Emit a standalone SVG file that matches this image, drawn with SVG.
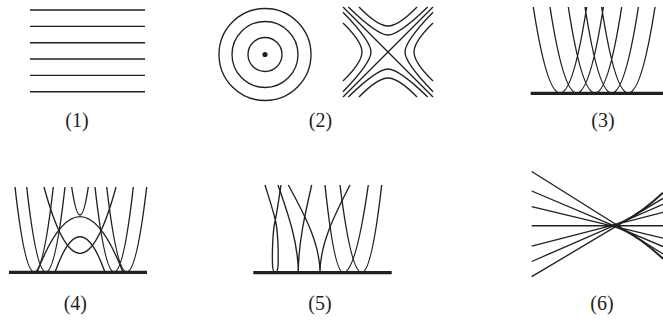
<svg xmlns="http://www.w3.org/2000/svg" width="663" height="320" viewBox="0 0 663 320">
<style>
.c{fill:none;stroke:#231f20;stroke-width:1.35}
.b{fill:none;stroke:#231f20;stroke-width:3.2}
.t{font-family:"Liberation Serif","Times New Roman",serif;font-size:20px;fill:#231f20;text-anchor:middle}
</style>
<rect width="663" height="320" fill="#fff"/>
<g id="p1">
<path class="c" d="M30,10H145M30,26.3H145M30,42.7H145M30,59H145M30,75.4H145M30,91.7H145"/>
<text class="t" x="77" y="127">(1)</text>
</g>
<g id="p2">
<circle class="c" cx="265" cy="54.5" r="46"/>
<circle class="c" cx="265" cy="54.5" r="33"/>
<circle class="c" cx="265" cy="54.5" r="17"/>
<circle cx="265" cy="54.5" r="2.6" fill="#231f20"/>
<path class="c" d="M343,7L433,97M343,97L433,7"/>
<path class="c" d="M359,7C371.9,20.3 380.6,26 388,26C395.4,26 404.1,20.3 417,7"/>
<path class="c" d="M359,97C371.9,83.7 380.6,78 388,78C395.4,78 404.1,83.7 417,97"/>
<path class="c" d="M348.3,7C368.5,26.6 380.4,35 388,35C395.6,35 407.5,26.6 427.7,7"/>
<path class="c" d="M348.3,97C368.5,77.4 380.4,69 388,69C395.6,69 407.5,77.4 427.7,97"/>
<path class="c" d="M343,23C356.3,35.9 362,44.6 362,52C362,59.4 356.3,68.1 343,81"/>
<path class="c" d="M433,23C419.7,35.9 414,44.6 414,52C414,59.4 419.7,68.1 433,81"/>
<path class="c" d="M343,12.3C362.6,32.5 371,44.4 371,52C371,59.6 362.6,71.5 343,91.7"/>
<path class="c" d="M433,12.3C413.4,32.5 405,44.4 405,52C405,59.6 413.4,71.5 433,91.7"/>
<text class="t" x="320.5" y="127">(2)</text>
</g>
<g id="p3">
<path class="c" d="M533.3,7Q560,179 586.7,7M550,7Q576.7,179 603.4,7M568.3,7Q595,179 621.7,7M585,7Q611.7,179 638.4,7M601.6,7Q628.3,179 655,7"/>
<path class="b" d="M530.7,93.3H663"/>
<text class="t" x="603" y="127">(3)</text>
</g>
<g id="p4">
<path class="c" d="M15,187Q34.15,357 53.3,187M26.7,187Q45.85,357 65,187M95,187Q114.15,357 133.3,187M106.7,187Q126.7,357 146.7,187"/>
<path class="c" d="M71.7,187Q80,243 88.3,187"/>
<path class="c" d="M44,187Q80,319.6 116,187"/>
<path class="c" d="M37,272.3Q80,161 123,272.3"/>
<path class="c" d="M55,272.3Q80,201.1 105,272.3"/>
<path class="b" d="M9,272.3H147"/>
<text class="t" x="75.3" y="310">(4)</text>
</g>
<g id="p5">
<path class="c" d="M265,185C269,198 273,210 275.3,220C278,230 278.6,255 278,266C277.3,274.5 273.3,274.5 272.6,266C272,255 272.6,230 275.3,220C277,212 279,198 281,185"/>
<path class="c" d="M278,185C288.2,214 298.3,243.5 298.3,272.5C298.3,243.5 305,214 311.7,185"/>
<path class="c" d="M288.3,185C304.2,214 320,243.5 320,272.5C320,243.5 335,214 350,185"/>
<path class="c" d="M325,185Q334.15,272.5 343.3,272.5Q355.8,272.5 368.3,185"/>
<path class="c" d="M340,185Q350.85,272.5 361.7,272.5Q371.7,272.5 381.7,185"/>
<path class="b" d="M253.3,272.7H391.7"/>
<text class="t" x="320" y="310">(5)</text>
</g>
<g id="p6">
<path class="c" d="M531.7,246.1L663,212.4M531.7,261.5L663,204.3M531.7,276.7L663,198.4M531.7,206.6L663,238.1M531.7,191L663,246.6M531.7,171.5L663,254M531.7,225.7H663"/>
<path class="c" style="stroke-width:2" d="M610,225.7C610,225.7 627.67,225.7 663,192.7M610,225.7C610,225.7 627.67,225.7 663,258.7"/>
<text class="t" x="602" y="310">(6)</text>
</g>
</svg>
